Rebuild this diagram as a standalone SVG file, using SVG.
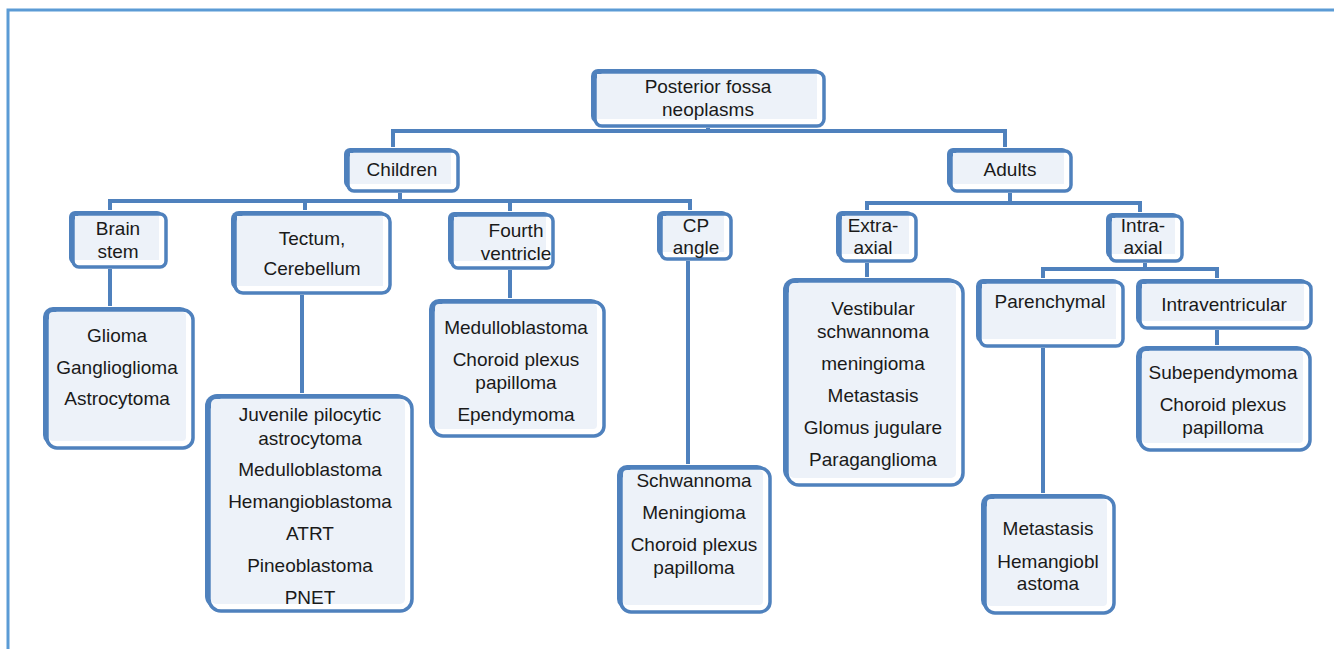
<svg xmlns="http://www.w3.org/2000/svg" width="1334" height="649" viewBox="0 0 1334 649">
<style>
.bk{fill:#4f81bd}
.fr{fill:#ffffff;stroke:#4f81bd;stroke-width:3.5}
.in{fill:#edf2f9}
.t{font-family:"Liberation Sans",Arial,sans-serif;font-size:19px;fill:#1a1a1a;text-anchor:middle}
.c{fill:none;stroke:#4f81bd;stroke-width:4}
</style>
<rect width="1334" height="649" fill="#ffffff"/>
<path d="M8,649 V10 H1334" fill="none" stroke="#5b9bd5" stroke-width="3"/>
<g id="connectors" class="c">
<path d="M708,128 V131"/>
<path d="M393,147 V131 H1005 V147"/>
<path d="M400,193 V201"/>
<path d="M110,210 V201 H690 V210"/>
<path d="M305,201 V210"/>
<path d="M510,201 V211"/>
<path d="M1010,193 V203"/>
<path d="M867,210 V203 H1140 V212"/>
<path d="M1145,263 V269"/>
<path d="M1043,278 V269 H1217 V278"/>
<path d="M110,269 V306"/>
<path d="M302,295 V393"/>
<path d="M510,270 V298"/>
<path d="M688,261 V464"/>
<path d="M867,263 V277"/>
<path d="M1217,330 V345"/>
<path d="M1043,348 V493"/>
</g>
<g id="root"><rect class="bk" x="591" y="69" width="230" height="54" rx="7"/><rect class="fr" x="595" y="72" width="229" height="54" rx="7"/><rect class="in" x="597" y="74" width="220" height="45"/>
<text class="t" x="708" y="93">Posterior fossa</text><text class="t" x="708" y="116">neoplasms</text></g>
<g id="children"><rect class="bk" x="344" y="148" width="111" height="40" rx="6"/><rect class="fr" x="348" y="151" width="110" height="40" rx="6"/><rect class="in" x="350" y="153" width="101" height="31"/>
<text class="t" x="402" y="176">Children</text></g>
<g id="adults"><rect class="bk" x="947" y="148" width="121" height="40" rx="6"/><rect class="fr" x="951" y="151" width="120" height="40" rx="6"/><rect class="in" x="953" y="153" width="111" height="31"/>
<text class="t" x="1010" y="176">Adults</text></g>
<g id="brainstem"><rect class="bk" x="69" y="211" width="94" height="53" rx="6"/><rect class="fr" x="73" y="214" width="93" height="53" rx="6"/><rect class="in" x="75" y="216" width="84" height="44"/>
<text class="t" x="118" y="235">Brain</text><text class="t" x="118" y="258">stem</text></g>
<g id="tectum"><rect class="bk" x="231" y="211" width="156" height="79" rx="8"/><rect class="fr" x="235" y="214" width="155" height="79" rx="8"/><rect class="in" x="237" y="216" width="146" height="70"/>
<text class="t" x="312" y="245">Tectum,</text><text class="t" x="312" y="275">Cerebellum</text></g>
<g id="fourth"><rect class="bk" x="448" y="212" width="102" height="53" rx="6"/><rect class="fr" x="452" y="215" width="101" height="53" rx="6"/><rect class="in" x="454" y="217" width="92" height="44"/>
<text class="t" x="516" y="237">Fourth</text><text class="t" x="516" y="260">ventricle</text></g>
<g id="cpangle"><rect class="bk" x="657" y="211" width="71" height="45" rx="6"/><rect class="fr" x="661" y="214" width="70" height="45" rx="6"/><rect class="in" x="663" y="216" width="61" height="36"/>
<text class="t" x="696" y="232">CP</text><text class="t" x="696" y="254">angle</text></g>
<g id="extraaxial"><rect class="bk" x="836" y="211" width="77" height="47" rx="6"/><rect class="fr" x="840" y="214" width="76" height="47" rx="6"/><rect class="in" x="842" y="216" width="67" height="38"/>
<text class="t" x="873" y="232">Extra-</text><text class="t" x="873" y="254">axial</text></g>
<g id="intraaxial"><rect class="bk" x="1106" y="213" width="73" height="45" rx="6"/><rect class="fr" x="1110" y="216" width="72" height="45" rx="6"/><rect class="in" x="1112" y="218" width="63" height="36"/>
<text class="t" x="1143" y="232">Intra-</text><text class="t" x="1143" y="254">axial</text></g>
<g id="glioma"><rect class="bk" x="43" y="307" width="147" height="138" rx="10"/><rect class="fr" x="47" y="310" width="146" height="138" rx="10"/><rect class="in" x="49" y="312" width="137" height="129" rx="4"/>
<text class="t" x="117" y="342">Glioma</text><text class="t" x="117" y="374">Ganglioglioma</text><text class="t" x="117" y="405">Astrocytoma</text></g>
<g id="juvenile"><rect class="bk" x="205" y="394" width="204" height="214" rx="12"/><rect class="fr" x="209" y="397" width="203" height="214" rx="12"/><rect class="in" x="211" y="399" width="194" height="205" rx="5"/>
<text class="t" x="310" y="421">Juvenile pilocytic</text><text class="t" x="310" y="445">astrocytoma</text><text class="t" x="310" y="476">Medulloblastoma</text><text class="t" x="310" y="508">Hemangioblastoma</text><text class="t" x="310" y="540">ATRT</text><text class="t" x="310" y="572">Pineoblastoma</text><text class="t" x="310" y="604">PNET</text></g>
<g id="medullo"><rect class="bk" x="429" y="299" width="172" height="134" rx="10"/><rect class="fr" x="433" y="302" width="171" height="134" rx="10"/><rect class="in" x="435" y="304" width="162" height="125" rx="4"/>
<text class="t" x="516" y="334">Medulloblastoma</text><text class="t" x="516" y="366">Choroid plexus</text><text class="t" x="516" y="389">papilloma</text><text class="t" x="516" y="421">Ependymoma</text></g>
<g id="schwann"><rect class="bk" x="617" y="465" width="150" height="144" rx="10"/><rect class="fr" x="621" y="468" width="149" height="144" rx="10"/><rect class="in" x="623" y="470" width="140" height="135" rx="4"/>
<text class="t" x="694" y="487">Schwannoma</text><text class="t" x="694" y="519">Meningioma</text><text class="t" x="694" y="551">Choroid plexus</text><text class="t" x="694" y="574">papilloma</text></g>
<g id="vestibular"><rect class="bk" x="783" y="278" width="177" height="204" rx="12"/><rect class="fr" x="787" y="281" width="176" height="204" rx="12"/><rect class="in" x="789" y="283" width="167" height="195" rx="5"/>
<text class="t" x="873" y="315">Vestibular</text><text class="t" x="873" y="338">schwannoma</text><text class="t" x="873" y="370">meningioma</text><text class="t" x="873" y="402">Metastasis</text><text class="t" x="873" y="434">Glomus jugulare</text><text class="t" x="873" y="466">Paraganglioma</text></g>
<g id="parenchymal"><rect class="bk" x="976" y="279" width="144" height="64" rx="7"/><rect class="fr" x="980" y="282" width="143" height="64" rx="7"/><rect class="in" x="982" y="284" width="134" height="55"/>
<text class="t" x="1050" y="308">Parenchymal</text></g>
<g id="intraventricular"><rect class="bk" x="1136" y="279" width="172" height="46" rx="7"/><rect class="fr" x="1140" y="282" width="171" height="46" rx="7"/><rect class="in" x="1142" y="284" width="162" height="37"/>
<text class="t" x="1224" y="311">Intraventricular</text></g>
<g id="subependymoma"><rect class="bk" x="1136" y="346" width="171" height="101" rx="10"/><rect class="fr" x="1140" y="349" width="170" height="101" rx="10"/><rect class="in" x="1142" y="351" width="161" height="92" rx="4"/>
<text class="t" x="1223" y="379">Subependymoma</text><text class="t" x="1223" y="411">Choroid plexus</text><text class="t" x="1223" y="434">papilloma</text></g>
<g id="metastasis"><rect class="bk" x="981" y="494" width="130" height="116" rx="10"/><rect class="fr" x="985" y="497" width="129" height="116" rx="10"/><rect class="in" x="987" y="499" width="120" height="107" rx="4"/>
<text class="t" x="1048" y="535">Metastasis</text><text class="t" x="1048" y="568">Hemangiobl</text><text class="t" x="1048" y="590">astoma</text></g>
</svg>
